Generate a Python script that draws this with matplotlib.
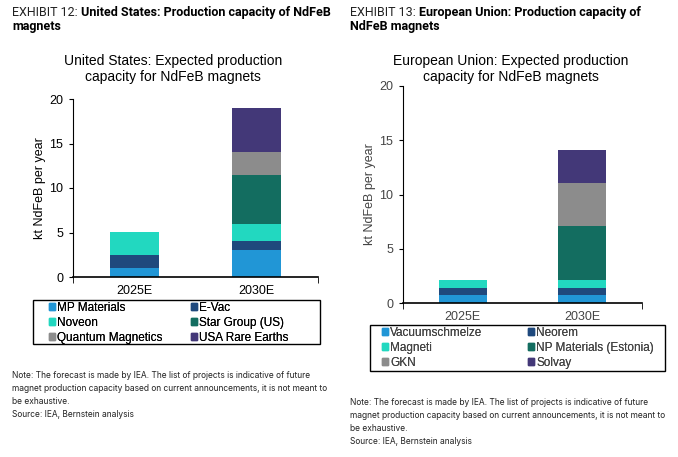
import matplotlib
matplotlib.use("Agg")
import matplotlib.pyplot as plt
from matplotlib.patches import Patch, Rectangle

# datos
categorias = ["2025E", "2030E"]

us_empresas = ["MP Materials", "E-Vac", "Noveon", "Star Group (US)",
               "Quantum Magnetics", "USA Rare Earths"]
us_mp = [1.0, 3.0]
us_evac = [1.5, 1.0]
us_noveon = [2.5, 2.0]
us_star = [0.0, 5.5]
us_quantum = [0.0, 2.5]
us_usare = [0.0, 5.0]

eu_empresas = ["Vacuumschmelze", "Neorem", "Magneti", "NP Materials (Estonia)",
               "GKN", "Solvay"]
eu_vac = [0.7, 0.7]
eu_neorem = [0.7, 0.7]
eu_magneti = [0.7, 0.7]
eu_np = [0.0, 5.0]
eu_gkn = [0.0, 4.0]
eu_solvay = [0.0, 3.0]

colores = ["#2196d6", "#1f497d", "#22d8c0", "#136d60", "#8c8c8c", "#433878"]

W, H = 678, 457
FUENTE = ["Liberation Sans", "DejaVu Sans"]
FUENTE_CAB = ["Liberation Sans Narrow", "Roboto", "DejaVu Sans"]
FUENTE_NOTA = ["Inter", "DejaVu Sans"]

nota = ("Note: The forecast is made by IEA. The list of projects is indicative of future\n"
        "magnet production capacity based on current announcements, it is not meant to\n"
        "be exhaustive.\n"
        "Source: IEA, Bernstein analysis")


def px(x, y):
    return x / W, 1 - y / H


def caja(x0, y0, x1, y1):
    return [x0 / W, 1 - y1 / H, (x1 - x0) / W, (y1 - y0) / H]


def cabecera(fig, x, y, num, linea1, linea2):
    r = fig.canvas.get_renderer()
    t = fig.text(*px(x, y), f"EXHIBIT {num}: ", fontsize=9.0, family=FUENTE_CAB,
                 va="baseline", color="#222222")
    ancho = t.get_window_extent(r).width
    fig.text(*px(x + ancho, y), linea1, fontsize=9.0, family=FUENTE_CAB,
             weight="bold", va="baseline")
    fig.text(*px(x, y + 14), linea2, fontsize=9.0, family=FUENTE_CAB,
             weight="bold", va="baseline")


def leyenda(fig, empresas, marco, col1_x, col2_x, fila_y, color_txt):
    x0, y0, x1, y1 = marco
    fig.patches.append(Rectangle((x0 / W, 1 - y1 / H), (x1 - x0) / W, (y1 - y0) / H,
                                 transform=fig.transFigure, fill=False,
                                 edgecolor="black", linewidth=1.0))
    # el original va por filas: columna izquierda 0,2,4 y derecha 1,3,5
    for col_x, idx in ((col1_x, [0, 2, 4]), (col2_x, [1, 3, 5])):
        handles = [Patch(color=colores[i], label=empresas[i]) for i in idx]
        leg = fig.legend(handles=handles, loc="upper left",
                         bbox_to_anchor=px(col_x, fila_y), frameon=False,
                         borderaxespad=0, borderpad=0, labelspacing=0.25,
                         handlelength=0.5, handleheight=0.5, handletextpad=0.2,
                         labelcolor=color_txt,
                         prop={"family": FUENTE, "size": 8.5})
        fig.add_artist(leg)


def graficar(fig, rect, series, empresas, titulo, titulo_xy, color_txt):
    ax = fig.add_axes(rect)
    base = [0.0, 0.0]
    xs = range(len(categorias))
    for vals, c in zip(series, colores):
        ax.bar(xs, vals, bottom=base, width=0.4, color=c, linewidth=0)
        base = [b + v for b, v in zip(base, vals)]

    ax.set_xlim(-0.5, 1.5)
    ax.set_ylim(0, 20)
    ax.set_yticks([0, 5, 10, 15, 20])
    ax.set_xticks(list(xs))
    ax.set_xticklabels(categorias)
    ax.set_xticks([-0.5, 1.5], minor=True)
    ax.tick_params(axis="x", which="major", length=0, labelsize=9, pad=6,
                   labelcolor=color_txt)
    ax.tick_params(axis="x", which="minor", length=4, direction="out")
    ax.tick_params(axis="y", length=3, direction="out", labelsize=9, pad=4,
                   labelcolor=color_txt)
    for lab in ax.get_xticklabels() + ax.get_yticklabels():
        lab.set_family(FUENTE)
    ax.spines["top"].set_visible(False)
    ax.spines["right"].set_visible(False)
    ax.spines["bottom"].set_linewidth(1.2)
    ax.set_ylabel("kt NdFeB per year", fontsize=9, family=FUENTE, labelpad=2,
                  color=color_txt)

    fig.text(*px(*titulo_xy), titulo, ha="center", va="top", fontsize=10,
             family=FUENTE, linespacing=1.15)
    return ax


fig = plt.figure(figsize=(W / 100, H / 100), dpi=100)
fig.patch.set_facecolor("white")

cabecera(fig, 12, 16, 12, "United States: Production capacity of NdFeB", "magnets")
cabecera(fig, 350, 16, 13, "European Union: Production capacity of", "NdFeB magnets")

graficar(fig, caja(73, 99, 318, 277),
         [us_mp, us_evac, us_noveon, us_star, us_quantum, us_usare], us_empresas,
         "United States: Expected production\ncapacity for NdFeB magnets", (173, 54),
         "black")
leyenda(fig, us_empresas, (33, 300, 320, 344), 49, 191, 302, "black")

graficar(fig, caja(403, 86, 642, 303),
         [eu_vac, eu_neorem, eu_magneti, eu_np, eu_gkn, eu_solvay], eu_empresas,
         "European Union: Expected production\ncapacity for NdFeB magnets", (511, 54),
         "#444444")
leyenda(fig, eu_empresas, (370, 325, 665, 371), 382, 528, 327, "#444444")

fig.text(*px(12, 371), nota, ha="left", va="top", fontsize=6.05,
         family=FUENTE_NOTA, linespacing=1.55, color="#222222")
fig.text(*px(350, 398), nota, ha="left", va="top", fontsize=6.05,
         family=FUENTE_NOTA, linespacing=1.55, color="#222222")

fig.savefig("out.png", dpi=100)
